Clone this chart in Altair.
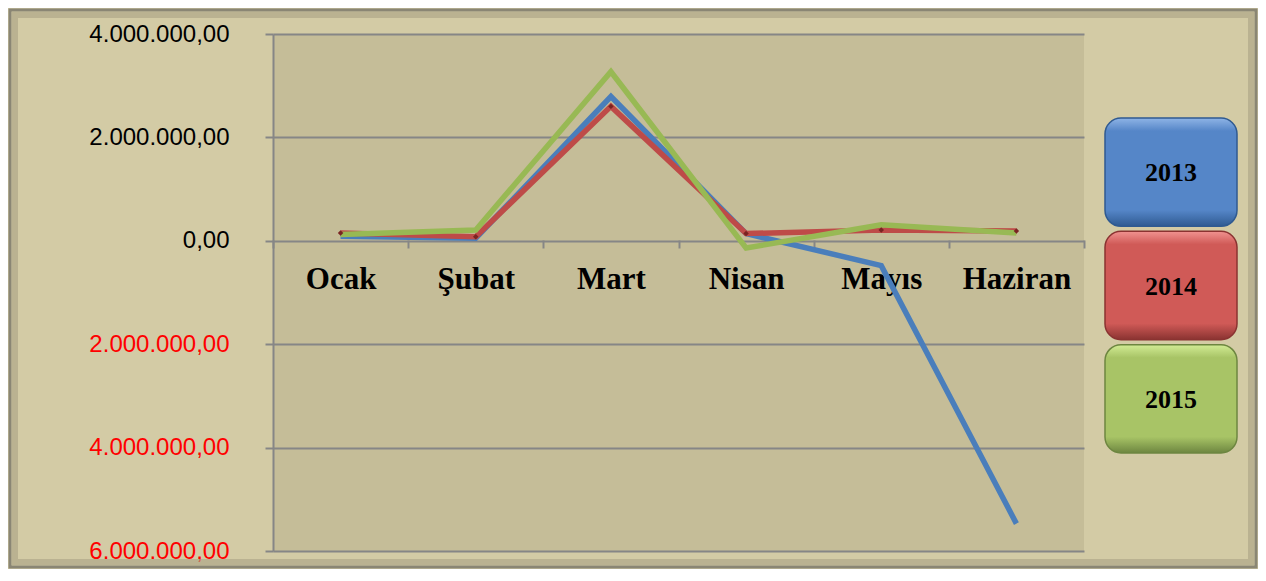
import altair as alt
import pandas as pd

months = ["Ocak", "Şubat", "Mart", "Nisan", "Mayıs", "Haziran"]
years = ["2013", "2014", "2015"]
v2013 = [90000, 50000, 2790000, 140000, -480000, -5470000]
v2014 = [150000, 80000, 2600000, 140000, 210000, 190000]
v2015 = [120000, 210000, 3270000, -140000, 310000, 150000]
y_ticks = [-6000000, -4000000, -2000000, 0, 2000000, 4000000]

line_colors = {"2013": "#4a7ebb", "2014": "#be4b48", "2015": "#98b954"}
box_colors = {
    "2013": ("#8fb4e6", "#5586c8", "#2f5a91"),
    "2014": ("#f09390", "#d05a57", "#8a3331"),
    "2015": ("#d2ec95", "#a8c466", "#6d8640"),
}

rows = []
for yr, vals in zip(years, [v2013, v2014, v2015]):
    for m, v in zip(months, vals):
        rows.append({"month": m, "year": yr, "value": v})
df = pd.DataFrame(rows)
leg = pd.DataFrame({"year": years})
one = pd.DataFrame({"a": [0]})

W, H = 811, 517
PL, PT, PR, PB = 265, 26, 174, 18

x_enc = alt.X(
    "month:N", sort=months, bandPosition=0.5,
    scale=alt.Scale(type="band", domain=months, paddingInner=0, paddingOuter=0),
    axis=alt.Axis(
        title=None, domain=False, grid=False, tickBand="extent", ticks=True,
        tickColor="#868686", tickWidth=2, tickSize=8, offset=-311,
        labelFont="Liberation Serif", labelFontWeight="bold", labelFontSize=31,
        labelColor="black", labelPadding=16, labelAngle=0,
    ),
)
y_enc = alt.Y(
    "value:Q",
    scale=alt.Scale(domain=[-6000000, 4000000], nice=False, zero=False),
    axis=alt.Axis(
        title=None, values=y_ticks, grid=True, gridColor="#868686", gridWidth=2,
        domain=True, domainColor="#868686", domainWidth=2,
        tickColor="#868686", tickWidth=2, tickSize=8,
        labelFont="Liberation Sans", labelFontSize=24, labelPadding=36,
        labelExpr="datum.value == 0 ? '0,00' : format(abs(datum.value)/1000000, 'd') + '.000.000,00'",
        labelColor={"condition": {"test": "datum.value < 0", "value": "#ff0000"}, "value": "#000000"},
    ),
)

frame_outer = alt.Chart(one).mark_rect(
    fill=None, stroke="#8a8674", strokeWidth=3
).encode(
    x=alt.value(-PL + 2), x2=alt.value(W + PR - 2),
    y=alt.value(-PT + 2), y2=alt.value(H + PB - 2),
)
frame_inner = alt.Chart(one).mark_rect(
    fill=None, stroke="#aaa283", strokeWidth=6, strokeOpacity=0.6
).encode(
    x=alt.value(-PL + 7), x2=alt.value(W + PR - 7),
    y=alt.value(-PT + 7), y2=alt.value(H + PB - 7),
)

lines = []
for yr in years:
    lines.append(
        alt.Chart(df).transform_filter(alt.datum.year == yr).mark_line(
            color=line_colors[yr], strokeWidth=5.5, strokeJoin="miter"
        ).encode(x=x_enc, y=y_enc)
    )
red_pts = alt.Chart(df).transform_filter(alt.datum.year == "2014").mark_point(
    shape="diamond", filled=True, size=30, color="#7a2422", opacity=1
).encode(x=x_enc, y=y_enc)

main_layer = alt.layer(*lines, red_pts)

ly = alt.Y("year:N", sort=years,
           scale=alt.Scale(type="band", domain=years, range=[84, 419], paddingInner=0.044, paddingOuter=0),
           axis=None)
boxes = []
for yr in years:
    light, base, dark = box_colors[yr]
    grad = {
        "gradient": "linear", "x1": 0, "y1": 0, "x2": 0, "y2": 1,
        "stops": [
            {"offset": 0, "color": light},
            {"offset": 0.12, "color": base},
            {"offset": 0.85, "color": base},
            {"offset": 1, "color": dark},
        ],
    }
    boxes.append(
        alt.Chart(leg).transform_filter(alt.datum.year == yr).mark_rect(
            fill=grad, cornerRadius=16, stroke=dark, strokeWidth=1.5
        ).encode(x=alt.value(832), x2=alt.value(964), y=ly)
    )
box_text = alt.Chart(leg).mark_text(
    font="Liberation Serif", fontWeight="bold", fontSize=26, color="black", dy=1
).encode(x=alt.value(898), y=ly, text="year:N")

legend_layer = alt.layer(*boxes, box_text)

chart = alt.layer(
    frame_outer, frame_inner, main_layer, legend_layer
).resolve_scale(y="independent").properties(
    width=W, height=H,
    autosize=alt.AutoSizeParams(type="none"),
    padding={"left": PL, "top": PT, "right": PR, "bottom": PB},
    background="#d3cba5",
).configure_view(fill="#c5bd98", stroke=None)

chart.save("out.html", embed_options={"renderer": "svg", "actions": False})
